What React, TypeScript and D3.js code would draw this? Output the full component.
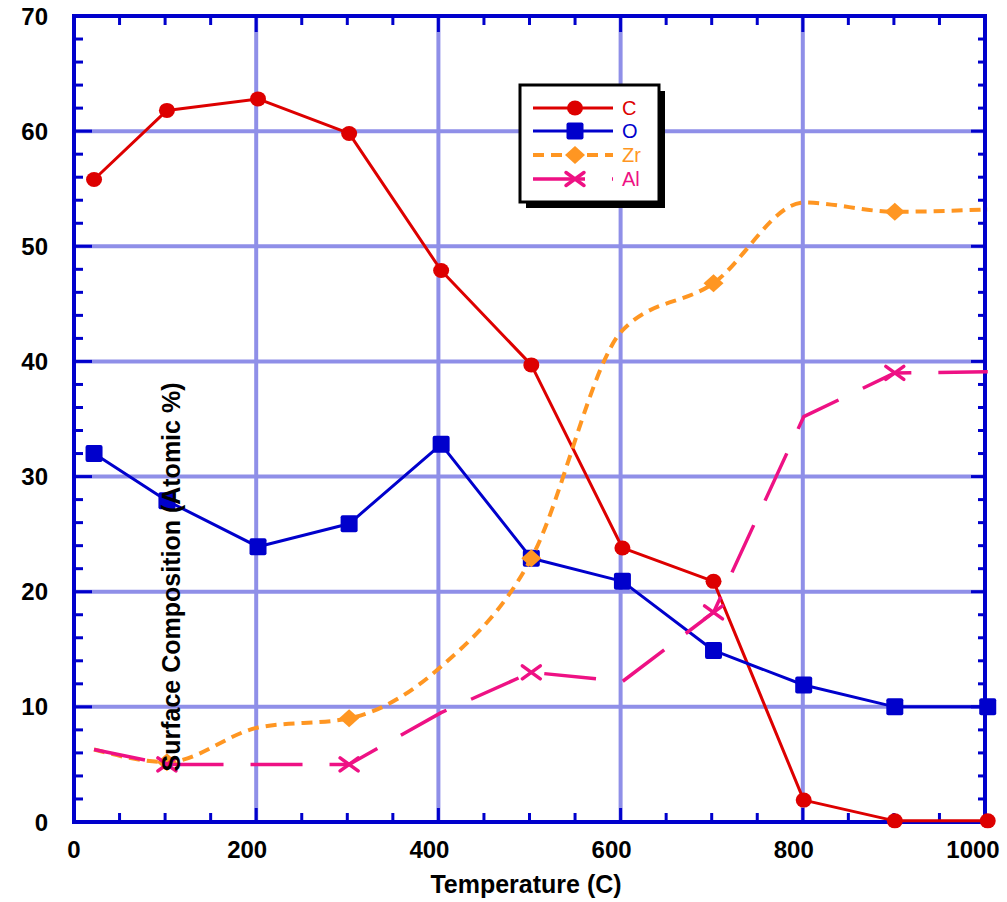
import React from "react";
import * as d3 from "d3";

// Surface composition vs temperature
const temperatures = [22, 102, 202, 302, 403, 502, 602, 702, 801, 901, 1003];
const carbon = [55.8, 61.8, 62.8, 59.8, 47.9, 39.7, 23.8, 20.9, 1.9, 0.1, 0.1];
const oxygen = [32.0, 27.9, 23.9, 25.9, 32.8, 22.9, 20.9, 14.9, 11.9, 10.0, 10.0];
const zirconium = [6.3, 5.2, 8.2, 9.0, 13.5, 22.9, 42.7, 46.8, 53.8, 53.0, 53.2];
const aluminum = [6.3, 5.0, 5.0, 5.0, 9.5, 13.0, 12.2, 18.2, 35.2, 39.0, 39.1];

const xMajor = [0, 200, 400, 600, 800, 1000];
const yMajor = [0, 10, 20, 30, 40, 50, 60, 70];

const W = 1007;
const H = 902;
const plot = { left: 74, right: 985, top: 16, bottom: 822 };

const AXIS = "#0000cc";
const GRID = "#8f8fe8";
const FONT = "'Liberation Sans', Arial, Helvetica, sans-serif";

type Marker = "circle" | "square" | "diamond" | "cross";

type Series = {
  name: string;
  values: number[];
  color: string;
  marker: Marker;
  dash?: string;
  width: number;
  smooth?: boolean;
  every: number; // draw a marker on every n-th point
  start: number;
};

const series: Series[] = [
  { name: "C", values: carbon, color: "#dd0000", marker: "circle", width: 3, every: 1, start: 0 },
  { name: "O", values: oxygen, color: "#0000cc", marker: "square", width: 3, every: 1, start: 0 },
  { name: "Zr", values: zirconium, color: "#ff9622", marker: "diamond", dash: "11,7", width: 4, smooth: true, every: 2, start: 1 },
  { name: "Al", values: aluminum, color: "#ee1184", marker: "cross", dash: "52,27", width: 3.5, every: 2, start: 1 },
];

function MarkerShape({ kind, x, y, color }: { kind: Marker; x: number; y: number; color: string }) {
  if (kind === "circle") return <ellipse cx={x} cy={y} rx={8} ry={7.5} fill={color} />;
  if (kind === "square") return <rect x={x - 8.5} y={y - 8.5} width={17} height={17} rx={2} fill={color} />;
  if (kind === "diamond")
    return <path d={`M${x},${y - 9}L${x + 10},${y}L${x},${y + 9}L${x - 10},${y}Z`} fill={color} />;
  return (
    <g stroke={color} strokeWidth={3.5} strokeLinecap="round">
      <line x1={x - 9} y1={y - 6.5} x2={x + 9} y2={y + 6.5} />
      <line x1={x - 9} y1={y + 6.5} x2={x + 9} y2={y - 6.5} />
    </g>
  );
}

export default function App() {
  const x = d3.scaleLinear().domain([0, 1000]).range([plot.left, plot.right]);
  const y = d3.scaleLinear().domain([0, 70]).range([plot.bottom, plot.top]);

  const xMinor = d3.range(0, 1001, 50).filter((v) => v % 200 !== 0);
  const yMinor = d3.range(0, 71, 2).filter((v) => v % 10 !== 0);

  const majorLen = 14;
  const minorLen = 9;

  const legendTop = 85;
  const legendLeft = 520;
  const legendRows = [108, 131, 155, 179];

  return (
    <svg
      width={W}
      height={H}
      viewBox={`0 0 ${W} ${H}`}
      style={{ position: "absolute", left: 0, top: 0, background: "#fff" }}
      fontFamily={FONT}
    >
      <rect width={W} height={H} fill="#fff" />

      {/* grid */}
      <g stroke={GRID} strokeWidth={4}>
        {xMajor.slice(1, -1).map((v) => (
          <line key={"gx" + v} x1={x(v)} x2={x(v)} y1={plot.top} y2={plot.bottom} />
        ))}
        {yMajor.slice(1, -1).map((v) => (
          <line key={"gy" + v} x1={plot.left} x2={plot.right} y1={y(v)} y2={y(v)} />
        ))}
      </g>

      {/* ticks on all four sides, pointing inward */}
      <g stroke={AXIS} strokeWidth={3}>
        {xMajor.map((v) => (
          <g key={"xt" + v}>
            <line x1={x(v)} x2={x(v)} y1={plot.bottom} y2={plot.bottom - majorLen} />
            <line x1={x(v)} x2={x(v)} y1={plot.top} y2={plot.top + majorLen + 2} />
          </g>
        ))}
        {xMinor.map((v) => (
          <g key={"xm" + v}>
            <line x1={x(v)} x2={x(v)} y1={plot.bottom} y2={plot.bottom - minorLen} />
            <line x1={x(v)} x2={x(v)} y1={plot.top} y2={plot.top + minorLen} />
          </g>
        ))}
        {yMajor.map((v) => (
          <g key={"yt" + v}>
            <line x1={plot.left} x2={plot.left + majorLen + 4} y1={y(v)} y2={y(v)} />
            <line x1={plot.right} x2={plot.right - majorLen} y1={y(v)} y2={y(v)} />
          </g>
        ))}
        {yMinor.map((v) => (
          <g key={"ym" + v}>
            <line x1={plot.left} x2={plot.left + minorLen} y1={y(v)} y2={y(v)} />
            <line x1={plot.right} x2={plot.right - minorLen + 2} y1={y(v)} y2={y(v)} />
          </g>
        ))}
      </g>

      {/* frame */}
      <rect
        x={plot.left}
        y={plot.top}
        width={plot.right - plot.left}
        height={plot.bottom - plot.top}
        fill="none"
        stroke={AXIS}
        strokeWidth={4}
      />

      {/* tick labels */}
      <g fontSize={24} fontWeight="bold" fill="#000">
        {xMajor.map((v) => (
          <text key={"xl" + v} x={x(v) - (v === 0 ? 0 : v === 1000 ? 12 : 9)} y={858} textAnchor="middle">
            {v}
          </text>
        ))}
        {yMajor.map((v) => (
          <text key={"yl" + v} x={48} y={y(v) + 8.5} textAnchor="end">
            {v}
          </text>
        ))}
      </g>

      {/* series */}
      {series.map((s) => {
        const pts: [number, number][] = s.values.map((v, i) => [x(temperatures[i]), y(v)]);
        const gen = d3.line().curve(s.smooth ? d3.curveMonotoneX : d3.curveLinear);
        return (
          <g key={s.name}>
            <path
              d={gen(pts) || ""}
              fill="none"
              stroke={s.color}
              strokeWidth={s.width}
              strokeDasharray={s.dash}
              strokeLinejoin="round"
            />
            {pts.map((p, i) =>
              i >= s.start && (i - s.start) % s.every === 0 ? (
                <MarkerShape key={i} kind={s.marker} x={p[0]} y={p[1]} color={s.color} />
              ) : null
            )}
          </g>
        );
      })}

      {/* legend */}
      <rect x={legendLeft + 6} y={legendTop + 6} width={139} height={117} fill="#000" />
      <rect x={legendLeft} y={legendTop} width={139} height={117} fill="#fff" stroke="#000" strokeWidth={3} />
      {series.map((s, i) => {
        const ly = legendRows[i];
        return (
          <g key={"lg" + s.name}>
            <line
              x1={legendLeft + 13}
              x2={legendLeft + 93}
              y1={ly}
              y2={ly}
              stroke={s.color}
              strokeWidth={s.width}
              strokeDasharray={s.dash}
            />
            <MarkerShape kind={s.marker} x={legendLeft + 55} y={ly} color={s.color} />
            <text x={legendLeft + 102} y={ly + 7} fontSize={20} fill={s.color}>
              {s.name}
            </text>
          </g>
        );
      })}

      {/* axis titles */}
      <text x={526} y={893} textAnchor="middle" fontSize={25} fontWeight="bold" fill="#000">
        Temperature (C)
      </text>
      <text
        transform="translate(180,577) rotate(-90)"
        textAnchor="middle"
        fontSize={25}
        fontWeight="bold"
        fill="#000"
      >
        Surface Composition (Atomic %)
      </text>
    </svg>
  );
}
